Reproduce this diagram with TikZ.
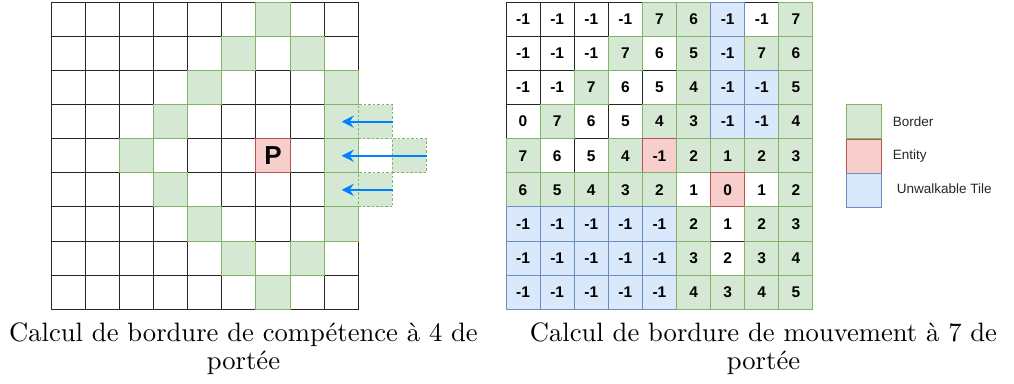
\documentclass[tikz,border=0pt]{standalone}
\usepackage{fontspec}
\newfontfamily\arial{Liberation Sans}
\newfontfamily\capfont{lmroman10-regular.otf}
\usetikzlibrary{arrows.meta}

\definecolor{gfill}{HTML}{D5E8D4}
\definecolor{gline}{HTML}{82B366}
\definecolor{pfill}{HTML}{F8CECC}
\definecolor{pline}{HTML}{B85450}
\definecolor{bfill}{HTML}{DAE8FC}
\definecolor{bline}{HTML}{6C8EBF}
\definecolor{arrowblue}{HTML}{007FFF}

\tikzset{
  cellbase/.style={rectangle, minimum size=34.1pt, inner sep=0pt, line width=0.9pt,
    font=\arial\bfseries\fontsize{15.5}{16}\selectfont},
  plain/.style={cellbase, draw=black!85, fill=white},
  tw/.style={cellbase},
  tg/.style={cellbase, draw=gline, fill=gfill},
  tp/.style={cellbase, draw=pline, fill=pfill},
  tb/.style={cellbase, draw=bline, fill=bfill},
  ghost/.style={cellbase, draw=gline, fill=gfill, dashed, dash pattern=on 2.5pt off 2pt},
  push/.style={draw=arrowblue, line width=2pt, -{Stealth[length=12pt,width=12pt,inset=4pt]}},
  key/.style={rectangle, minimum width=34.6pt, minimum height=34pt, inner sep=0pt, line width=0.9pt},
  keytext/.style={anchor=west, inner sep=0pt, text=black!85, font=\arial\fontsize{13.5}{15}\selectfont},
  caption/.style={align=center, inner sep=0pt, font=\capfont\fontsize{26.6}{27.5}\selectfont}
}

\begin{document}
\begin{tikzpicture}[x=1pt, y=-1pt]
\useasboundingbox (0,0) rectangle (1014,383);

% ---- skill range grid (range 4) ----
\def\ux{51.3}\def\uy{2.3}\def\cs{34.1}
\foreach \r/\cells in {
  0/{w,w,w,w,w,w,g,w,w},
  1/{w,w,w,w,w,g,w,g,w},
  2/{w,w,w,w,g,w,w,w,g},
  3/{w,w,w,g,w,w,w,w,g},
  4/{w,w,g,w,w,w,p,w,g},
  5/{w,w,w,g,w,w,w,w,g},
  6/{w,w,w,w,g,w,w,w,g},
  7/{w,w,w,w,w,g,w,g,w},
  8/{w,w,w,w,w,w,g,w,w}}{
  \foreach \t [count=\c from 0] in \cells
    \node[plain] at ({\ux+(\c+0.5)*\cs},{\uy+(\r+0.5)*\cs}) {};
}
\foreach \r/\cells in {
  0/{w,w,w,w,w,w,g,w,w},
  1/{w,w,w,w,w,g,w,g,w},
  2/{w,w,w,w,g,w,w,w,g},
  3/{w,w,w,g,w,w,w,w,g},
  4/{w,w,g,w,w,w,p,w,g},
  5/{w,w,w,g,w,w,w,w,g},
  6/{w,w,w,w,g,w,w,w,g},
  7/{w,w,w,w,w,g,w,g,w},
  8/{w,w,w,w,w,w,g,w,w}}{
  \foreach \t [count=\c from 0] in \cells
    \node[t\t] (L\r-\c) at ({\ux+(\c+0.5)*\cs},{\uy+(\r+0.5)*\cs}) {};
}
\node[font=\arial\bfseries\fontsize{26}{28}\selectfont] (player) at (L4-6) {P};

% cells just outside the range, pushed back onto the border
\node[ghost] (G3) at ({\ux+9.5*\cs},{\uy+3.5*\cs}) {};
\node[ghost] (G4) at ({\ux+10.5*\cs},{\uy+4.5*\cs}) {};
\node[ghost] (G5) at ({\ux+9.5*\cs},{\uy+5.5*\cs}) {};
\coordinate (T3) at (341.7,{\uy+3.5*\cs});
\coordinate (T4) at (341.7,{\uy+4.5*\cs});
\coordinate (T5) at (341.7,{\uy+5.5*\cs});
\draw[push] (G3.east) -- (T3);
\draw[push] (G4.east) -- (T4);
\draw[push] (G5.east) -- (T5);

% ---- movement range grid (range 7) ----
\def\vx{506}
\foreach \r/\cells in {
  0/{-1/w,-1/w,-1/w,-1/w,7/g,6/g,-1/b,-1/w,7/g},
  1/{-1/w,-1/w,-1/w,7/g,6/w,5/g,-1/b,7/g,6/g},
  2/{-1/w,-1/w,7/g,6/w,5/w,4/g,-1/b,-1/b,5/g},
  3/{0/w,7/g,6/w,5/w,4/g,3/g,-1/b,-1/b,4/g},
  4/{7/g,6/w,5/w,4/g,-1/p,2/g,1/g,2/g,3/g},
  5/{6/g,5/g,4/g,3/g,2/g,1/w,0/p,1/w,2/g},
  6/{-1/b,-1/b,-1/b,-1/b,-1/b,2/g,1/w,2/g,3/g},
  7/{-1/b,-1/b,-1/b,-1/b,-1/b,3/g,2/w,3/g,4/g},
  8/{-1/b,-1/b,-1/b,-1/b,-1/b,4/g,3/g,4/g,5/g}}{
  \foreach \v/\t [count=\c from 0] in \cells
    \node[plain] at ({\vx+(\c+0.5)*\cs},{\uy+(\r+0.5)*\cs}) {};
}
\foreach \r/\cells in {
  0/{-1/w,-1/w,-1/w,-1/w,7/g,6/g,-1/b,-1/w,7/g},
  1/{-1/w,-1/w,-1/w,7/g,6/w,5/g,-1/b,7/g,6/g},
  2/{-1/w,-1/w,7/g,6/w,5/w,4/g,-1/b,-1/b,5/g},
  3/{0/w,7/g,6/w,5/w,4/g,3/g,-1/b,-1/b,4/g},
  4/{7/g,6/w,5/w,4/g,-1/p,2/g,1/g,2/g,3/g},
  5/{6/g,5/g,4/g,3/g,2/g,1/w,0/p,1/w,2/g},
  6/{-1/b,-1/b,-1/b,-1/b,-1/b,2/g,1/w,2/g,3/g},
  7/{-1/b,-1/b,-1/b,-1/b,-1/b,3/g,2/w,3/g,4/g},
  8/{-1/b,-1/b,-1/b,-1/b,-1/b,4/g,3/g,4/g,5/g}}{
  \foreach \v/\t [count=\c from 0] in \cells
    \node[t\t] (M\r-\c) at ({\vx+(\c+0.5)*\cs},{\uy+(\r+0.5)*\cs}) {\v};
}

% ---- legend ----
\node[key, draw=gline, fill=gfill] (kg) at (864,121.8) {};
\node[key, draw=pline, fill=pfill] (kp) at (864,156) {};
\node[key, draw=bline, fill=bfill] (kb) at (864,190) {};
\node[keytext] (kgt) at (892.7,121.7) {Border};
\node[keytext] (kpt) at (892.7,155.7) {Entity};
\node[keytext] (kbt) at (896.7,189) {Unwalkable Tile};

% ---- captions ----
\node[caption, anchor=north] (capL) at (243.5,323) {Calcul de bordure de compétence à 4 de\\portée};
\node[caption, anchor=north] (capR) at (763.5,323) {Calcul de bordure de mouvement à 7 de\\portée};
\end{tikzpicture}
\end{document}
